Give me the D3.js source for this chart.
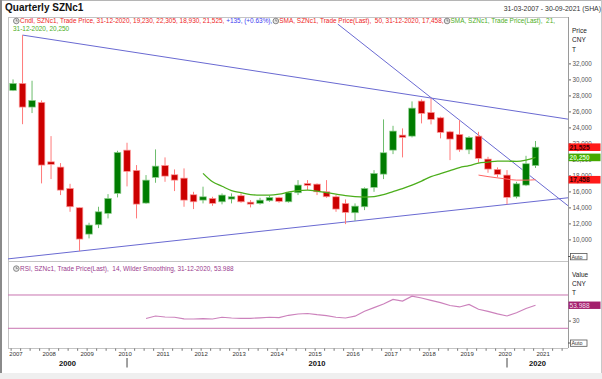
<!DOCTYPE html>
<html><head><meta charset="utf-8">
<script src="https://cdn.jsdelivr.net/npm/d3@7"></script>
<style>body{margin:0;background:#fff}svg text{font-family:"Liberation Sans",Arial,sans-serif;white-space:pre}</style>
</head><body><svg id="c" width="602" height="379"></svg>
<script>
// ---------- DATA ----------
const years = [2007,2008,2009,2010,2011,2012,2013,2014,2015,2016,2017,2018,2019,2020,2021];
const decades = ["2000","2010","2020"];
const quarterNames = ["Q1","Q2","Q3","Q4"];
const quarters = years.slice(0,14).flatMap(yv => quarterNames.map(q => yv + q));
const open  = [28625,29500,26540,27125,19700,19040,16375,13960,10660,11830,13250,15750,21160,18625,14540,17750,19250,18080,17660,15580,14910,15125,14700,15040,15460,14660,14500,14830,15210,14700,15830,17000,16910,15950,15330,14500,13330,14080,16500,18160,21160,23040,22910,27290,25875,25200,23450,23125,21200,22910,20040,18750,18040,15330,16790,19230];
const high  = [30000,35540,29830,27375,22910,19540,16950,14000,12080,14080,15660,21080,22080,19290,18040,21250,20250,18750,18875,15950,16590,15330,15750,15750,15750,14910,15200,15460,15330,15950,17410,17410,17000,17410,15540,15000,14500,16500,18660,25000,24200,23875,27250,27500,27625,25330,23575,24910,22910,23450,20325,19000,18660,17200,20450,22305];
const low   = [28540,24400,25790,17000,17540,15540,13450,8540,10125,11410,12625,15250,16625,12625,14450,17080,17200,16040,14080,13790,14500,14200,14380,14500,14580,14000,14350,14700,14580,14600,15540,16160,15540,15200,13450,11910,12330,13660,15950,17540,20660,20250,22750,24500,24375,22625,19910,20950,20660,19580,18330,17750,14375,15125,16660,18930];
const close = [29500,26540,27375,19290,19375,16160,14080,10040,11790,13450,15125,20875,18500,14410,17410,19160,17910,17410,14910,14700,15325,14500,15540,15330,14700,14410,14910,15250,14750,15830,16790,16750,15950,15330,13790,13375,14160,16375,18250,20830,23540,22750,26410,25750,25000,23375,22540,21200,22750,20125,18790,18125,15250,16950,19460,21525];
const sma21Start = 20;
const sma21 = [18250,17200,16640,16090,15840,15600,15540,15540,15660,15910,16100,16160,16040,15850,15660,15475,15350,15290,15350,15600,15975,16350,16790,17290,17850,18225,18600,18975,19225,19540,19660,19790,19790,19750,19910,20250];
const sma50Start = 49;
const sma50 = [18040,17850,17690,17540,17410,17410,17458];
const rsiStart = 14;
const rsi = [33.3,37.2,35.6,35.2,32.8,32.5,33.1,32.5,35.2,34.1,33.6,33.6,34.4,35.2,34.7,38.3,40.3,41.1,39.2,37.7,35.2,34.1,36.9,44.7,50.2,55.9,63.0,60.6,68.1,65.3,61.7,58.1,53.6,51.3,55.2,47.7,44.5,40.6,37.2,42.3,48.9,53.988];
const rsiLevels = [70, 18];
const rsiTicks = [30];
const priceTicks = [10000,12000,14000,16000,18000,20000,22000,24000,26000,28000,30000,32000];
// trend lines as [quarter index, price] anchor pairs
const trendUpper = [[1,35540],[58.42,25032]];
const trendLower = [[-0.53,7564],[58.42,15204]];
const trendSteep = [[34.19,36912],[58.42,14209]];
const lastValues = [
  {v:21525, label:"21,525", fill:"#ff1a1a", text:"#3a0000"},
  {v:20250, label:"20,250", fill:"#44a800", text:"#d8ffc8"},
  {v:17458, label:"17,458", fill:"#ff1a1a", text:"#3a0000"}
];

// ---------- LAYOUT ----------
const svg = d3.select("#c");
const L=8, R=568, T=17, PB=261, RB=348;
const x = d3.scaleLinear().domain([-0.53, 58.42]).range([L, R]);
const y = d3.scaleLinear().domain([7300, 37800]).range([PB, T]);
const yr = d3.scaleLinear().domain([-12.8, 123.1]).range([RB, PB]);
const font = '"Liberation Sans",Arial,sans-serif';

svg.append("rect").attr("width",602).attr("height",379).attr("fill","#fff");
svg.append("rect").attr("x",0).attr("y",373).attr("width",602).attr("height",6).attr("fill","#efefef");
svg.append("line").attr("x1",0).attr("x2",602).attr("y1",0.5).attr("y2",0.5).attr("stroke","#b5b5b5");
svg.append("line").attr("x1",1).attr("x2",1).attr("y1",0).attr("y2",373).attr("stroke","#8a8a8a").attr("stroke-width",2);
svg.append("line").attr("x1",601.5).attr("x2",601.5).attr("y1",0).attr("y2",373).attr("stroke","#c8c8c8");

// title
svg.append("text").attr("x",5).attr("y",11).attr("font-size",10).attr("font-weight","bold").attr("fill","#111").text("Quarterly SZNc1");
svg.append("text").attr("x",601).attr("y",10.7).attr("text-anchor","end").attr("font-size",6.9).attr("fill","#333").text("31-03-2007 - 30-09-2021 (SHA)");

// panel frame
const frame = svg.append("g").attr("stroke","#c4c4c4").attr("stroke-width",1);
[T, PB, RB].forEach(v => frame.append("line").attr("x1",L).attr("x2",R).attr("y1",v+0.5).attr("y2",v+0.5));
frame.append("line").attr("x1",L+0.5).attr("x2",L+0.5).attr("y1",T).attr("y2",RB);

// clip
const defs = svg.append("defs");
defs.append("clipPath").attr("id","cp").append("rect").attr("x",L).attr("y",T).attr("width",R-L).attr("height",PB-T);
defs.append("clipPath").attr("id","cr").append("rect").attr("x",L).attr("y",PB).attr("width",R-L).attr("height",RB-PB);

const plot = svg.append("g").attr("clip-path","url(#cp)");

// trend lines
const tl = d3.line().x(d => x(d[0])).y(d => y(d[1]));
[trendUpper, trendLower, trendSteep].forEach(t =>
  plot.append("path").attr("d", tl(t)).attr("fill","none").attr("stroke","#6a6ad2").attr("stroke-width",1));

// candles
const cdata = quarters.map((q,i) => ({q, i, o:open[i], h:high[i], l:low[i], c:close[i]}));
const cg = plot.append("g");
cg.selectAll("line.w").data(cdata).join("line")
  .attr("x1", d => x(d.i)).attr("x2", d => x(d.i))
  .attr("y1", d => y(d.h)).attr("y2", d => y(d.l))
  .attr("stroke", d => d.c >= d.o ? "#6cbc6c" : "#ff7a7a").attr("stroke-width",1);
cg.selectAll("rect").data(cdata).join("rect")
  .attr("x", d => x(d.i) - 3.3).attr("width", 6.6)
  .attr("y", d => y(Math.max(d.o,d.c)))
  .attr("height", d => Math.max(1.2, Math.abs(y(d.o) - y(d.c))))
  .attr("fill", d => d.c >= d.o ? "#007c00" : "#cc0000")
  .attr("stroke", d => d.c >= d.o ? "#8ed08e" : "#ff9a9a").attr("stroke-width",0.7);

// SMAs
const ln = d3.line().x(d => x(d[0])).y(d => y(d[1])).curve(d3.curveMonotoneX);
plot.append("path").attr("d", ln(sma21.map((v,k) => [sma21Start+k, v])))
  .attr("fill","none").attr("stroke","#4cae1c").attr("stroke-width",1.3);
plot.append("path").attr("d", ln(sma50.map((v,k) => [sma50Start+k, v])))
  .attr("fill","none").attr("stroke","#ff6464").attr("stroke-width",1);

// RSI panel
const rg = svg.append("g").attr("clip-path","url(#cr)");
rsiLevels.forEach(v => rg.append("line").attr("x1",L).attr("x2",R).attr("y1",yr(v)).attr("y2",yr(v)).attr("stroke","#c873b0").attr("stroke-width",1));
const rl = d3.line().x(d => x(d[0])).y(d => yr(d[1]));
rg.append("path").attr("d", rl(rsi.map((v,k) => [rsiStart+k, v])))
  .attr("fill","none").attr("stroke","#cc82bc").attr("stroke-width",1.2);

// price axis
const pa = svg.append("g").attr("transform",`translate(${R},0)`)
  .call(d3.axisRight(y).tickValues(priceTicks).tickSize(3).tickSizeOuter(0).tickFormat(d3.format(",")));
pa.select(".domain").remove();
pa.selectAll("line").attr("stroke","#666");
pa.selectAll("text").attr("font-size",6.3).attr("fill","#555").attr("font-family",font).attr("x",4.5);
const ra = svg.append("g").attr("transform",`translate(${R},0)`)
  .call(d3.axisRight(yr).tickValues(rsiTicks).tickSize(3).tickSizeOuter(0));
ra.select(".domain").remove();
ra.selectAll("line").attr("stroke","#666");
ra.selectAll("text").attr("font-size",6.3).attr("fill","#555").attr("font-family",font).attr("x",4.5);
svg.append("line").attr("x1",R+0.5).attr("x2",R+0.5).attr("y1",T).attr("y2",RB).attr("stroke","#9a9a9a");

// axis headers
[["Price",32.5],["CNY",41.7],["T",51.7],["Value",277.3],["CNY",286],["T",295]].forEach(([t,yy]) =>
  svg.append("text").attr("x",572).attr("y",yy).attr("font-size",6.5).attr("fill","#222").text(t));

// auto boxes
[253.5, 340].forEach(yy => {
  svg.append("line").attr("x1",R).attr("x2",570).attr("y1",yy+3).attr("y2",yy+3).attr("stroke","#555");
  svg.append("rect").attr("x",570.5).attr("y",yy).attr("width",16.5).attr("height",6.3).attr("fill","#fff").attr("stroke","#555").attr("stroke-width",0.8);
  svg.append("text").attr("x",571.5).attr("y",yy+5.3).attr("font-size",5.4).attr("fill","#333").text("Auto");
});

// last value boxes
lastValues.forEach(d => {
  const cy = y(d.v);
  svg.append("rect").attr("x",R+0.5).attr("y",cy-3.8).attr("width",32).attr("height",7.6).attr("fill",d.fill);
  svg.append("text").attr("x",R+1.5).attr("y",cy+2.4).attr("font-size",6.6).attr("font-weight","bold").attr("fill",d.text).text(d.label);
});
{
  const cy = yr(rsi[rsi.length-1]);
  svg.append("rect").attr("x",R+0.5).attr("y",cy-3.7).attr("width",32).attr("height",7.4).attr("fill","#a3206c");
  svg.append("text").attr("x",R+1.5).attr("y",cy+2.4).attr("font-size",6.6).attr("fill","#f4dcea").text(d3.format(".3f")(rsi[rsi.length-1]));
}

// x axis
const xa = svg.append("g");
d3.range(0, 59).forEach(i => xa.append("line").attr("x1",x(i-0.2)).attr("x2",x(i-0.2)).attr("y1",RB+0.5).attr("y2",RB+2.8).attr("stroke","#555").attr("stroke-width",0.8));
years.forEach((yv,k) => {
  const px = Math.max(16, x(4*k - 0.2));
  xa.append("text").attr("x",px).attr("y",355.5).attr("text-anchor","middle").attr("font-size",6).attr("fill","#333").text(yv);
});
const bounds = [L, x(12), x(52), R];
[x(12), x(52)].forEach(px => xa.append("line").attr("x1",px).attr("x2",px).attr("y1",358).attr("y2",367.5).attr("stroke","#444").attr("stroke-width",1));
decades.forEach((dv,k) => xa.append("text").attr("x",(bounds[k]+bounds[k+1])/2).attr("y",366).attr("text-anchor","middle")
  .attr("font-size",7.6).attr("font-weight","bold").attr("fill","#111").text(dv));

// legends
function icon(cx, cy) {
  svg.append("circle").attr("cx",cx).attr("cy",cy).attr("r",2.8).attr("fill","#e6e6e6").attr("stroke","#6f6f6f").attr("stroke-width",0.8);
  svg.append("path").attr("d",`M${cx},${cy-1.8}V${cy}H${cx+1.5}`).attr("stroke","#555").attr("stroke-width",0.6).attr("fill","none");
}
function seg(xx, yy, txt, col) {
  const t = svg.append("text").attr("x",xx).attr("y",yy).attr("font-size",6.45).attr("fill",col).text(txt);
  return xx + t.node().getComputedTextLength();
}
let cx = 20;
icon(16.3, 21);
cx = seg(cx, 23.3, "Cndl, SZNc1, Trade Price, 31-12-2020, 19,230, 22,305, 18,930, 21,525, ", "#ee2424");
cx = seg(cx, 23.3, "+135, (+0.63%),", "#3b3bf0");
icon(cx+3.5, 21);
cx = seg(cx+7, 23.3, "SMA, SZNc1, Trade Price(Last),  50, 31-12-2020, 17,458,", "#ee2424");
icon(cx+3.5, 21);
seg(cx+7, 23.3, "SMA, SZNc1, Trade Price(Last),  21,", "#4cae1c");
seg(13, 31.3, "31-12-2020, 20,250", "#4cae1c");
icon(16.3, 268.6);
seg(20, 271, "RSI, SZNc1, Trade Price(Last),  14, Wilder Smoothing, 31-12-2020, 53.988", "#9a3a8e");
</script></body></html>
